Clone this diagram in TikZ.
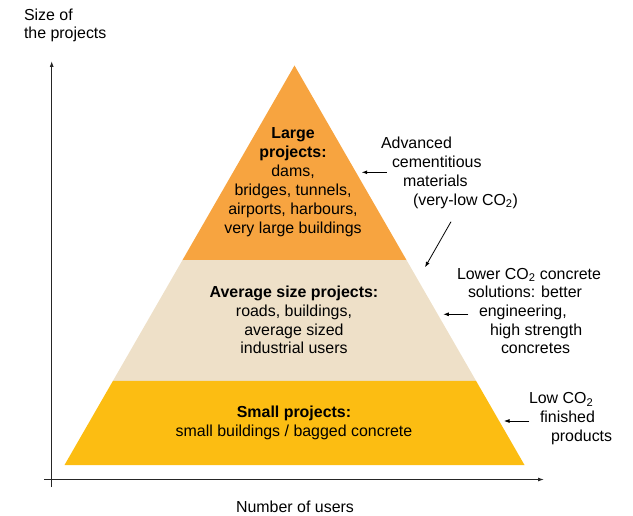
\documentclass[tikz,border=0pt]{standalone}
\usepackage{fontspec}
\setmainfont{Liberation Sans}
\usetikzlibrary{arrows.meta,calc}
\definecolor{topor}{RGB}{247,164,64}
\definecolor{midbg}{RGB}{238,224,200}
\definecolor{botyl}{RGB}{252,189,18}
\begin{document}
\begin{tikzpicture}[x=1bp,y=-1bp,
  lbl/.style={inner sep=0pt, outer sep=0pt, font=\fontsize{16}{19}\selectfont},
  ptxt/.style={lbl, align=center, anchor=north},
  ann/.style={lbl, align=left, anchor=north west},
  pointer/.style={-{Latex[length=5.5bp,width=4bp]}, line width=0.8bp},
  axis/.style={-{Latex[length=6bp,width=4bp]}, line width=1bp, draw=black!85}]
\useasboundingbox (0,0) rectangle (633,516);
% pyramid corners
\coordinate (apex) at (294.5,65.5);
\coordinate (bl) at (64.5,465);
\coordinate (br) at (524.5,465);
\coordinate (m1l) at ($(apex)!0.4869!(bl)$);
\coordinate (m1r) at ($(apex)!0.4869!(br)$);
\coordinate (m2l) at ($(apex)!0.7897!(bl)$);
\coordinate (m2r) at ($(apex)!0.7897!(br)$);
\fill[topor] (apex) -- (m1r) -- (m1l) -- cycle;
\fill[midbg] (m1l) -- (m1r) -- (m2r) -- (m2l) -- cycle;
\fill[botyl] (m2l) -- (m2r) -- (br) -- (bl) -- cycle;
% axes
\coordinate (yfoot) at (51.7,487);
\coordinate (ytip) at (51.7,61);
\coordinate (xfoot) at (44,479.5);
\coordinate (xtip) at (544,479.5);
\draw[axis] (yfoot) -- (ytip);
\draw[axis] (xfoot) -- (xtip);
\node[lbl, align=left, anchor=north west, font=\fontsize{16}{18}\selectfont] (ylab) at (24,8.2) {\strut Size of\\the projects};
\node[lbl, anchor=base] (xlab) at (295,512) {Number of users};
% pyramid texts
\node[ptxt] (large) at (293,125.2) {\strut\textbf{Large}\\\textbf{projects:}\\dams,\\bridges, tunnels,\\airports, harbours,\\very large buildings};
\node[ptxt, font=\fontsize{16}{18.7}\selectfont] (avg) at (294,284.7) {\strut\textbf{Average size projects:}\\roads, buildings,\\average sized\\industrial users};
\node[ptxt] (small) at (294,404) {\strut\textbf{Small projects:}\\small buildings / bagged concrete};
% annotations
\node[ann] (ann1) at (381,135.2) {\strut Advanced\\\hspace*{11bp}cementitious\\\hspace*{22bp}materials\\\hspace*{32bp}(very-low CO\textsubscript{2})};
\node[ann, font=\fontsize{16}{18.75}\selectfont] (ann2) at (457,266.2) {\strut Lower CO\textsubscript{2} concrete\\\hspace*{11bp}solutions: better\\\hspace*{22bp}engineering,\\\hspace*{33bp}high strength\\\hspace*{44bp}concretes};
\node[ann] (ann3) at (529,390.2) {\strut Low CO\textsubscript{2}\\\hspace*{11bp}finished\\\hspace*{22bp}products};
% pointers
\coordinate (p1s) at (386.7,172.3);
\coordinate (p1e) at (361.7,172.3);
\coordinate (p2s) at (451,221.7);
\coordinate (p2e) at (425,267.3);
\coordinate (p3s) at (468.3,314.3);
\coordinate (p3e) at (443.3,314.3);
\coordinate (p4s) at (529.3,421);
\coordinate (p4e) at (504,421);
\draw[pointer] (p1s) -- (p1e);
\draw[pointer] (p2s) -- (p2e);
\draw[pointer] (p3s) -- (p3e);
\draw[pointer] (p4s) -- (p4e);
\end{tikzpicture}
\end{document}
